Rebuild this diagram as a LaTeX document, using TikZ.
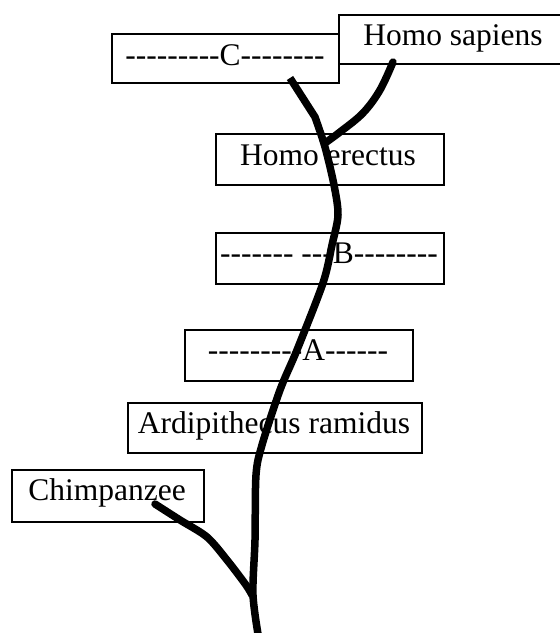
\documentclass[tikz,border=0pt]{standalone}
\usepackage{fontspec}
\setmainfont{Liberation Serif}[Ligatures=TeXOff]
\begin{document}
\begin{tikzpicture}[x=1pt,y=-1pt,
  labelbox/.style={draw, line width=1.8pt, fill=white, inner sep=0pt, anchor=north west},
  taxon/.style={anchor=base, inner sep=0pt, font=\fontsize{31.5}{36}\selectfont},
  branch/.style={line width=7.5pt, line cap=round, line join=round}]
\useasboundingbox (0,0) rectangle (560,633);
\clip (0,0) rectangle (560,633);

% label boxes
\node[labelbox, minimum width=227pt, minimum height=49pt] (boxC) at (111,33) {};
\node[labelbox, minimum width=240pt, minimum height=49pt] (boxSap) at (338,14) {};
\node[labelbox, minimum width=228pt, minimum height=51pt] (boxEre) at (215,133) {};
\node[labelbox, minimum width=228pt, minimum height=51pt] (boxB) at (215,232) {};
\node[labelbox, minimum width=228pt, minimum height=51pt] (boxA) at (184,329) {};
\node[labelbox, minimum width=294pt, minimum height=50pt] (boxArd) at (127,402) {};
\node[labelbox, minimum width=192pt, minimum height=52pt] (boxChimp) at (11,469) {};

% labels
\node[taxon] (tC) at (225,65) {---------C--------};
\node[taxon] (tSap) at (453,45) {Homo sapiens};
\node[taxon] (tEre) at (328,165) {Homo erectus};
\node[taxon] (tB) at (329,263) {------- ---B--------};
\node[taxon] (tA) at (298,360) {---------A------};
\node[taxon] (tArd) at (274,433) {Ardipithecus ramidus};
\node[taxon] (tChimp) at (107,500) {Chimpanzee};

% branch points
\coordinate (root) at (259,640);
\coordinate (chimpFork) at (252,595);
\coordinate (sapFork) at (325,143);
\coordinate (trunkTop) at (290,78);
\coordinate (sapTip) at (393,62);
\coordinate (chimpTip) at (155,504);

% main trunk
\draw[branch, line cap=butt] plot[smooth, tension=0.5] coordinates {
  (root) (253,595) (255,540) (256,475) (262,445) (280,390)
  (297,350) (323,283) (332,245) (338,215) (334,185) (325,147) (315,117)}
  -- (trunkTop);

% Homo sapiens branch
\draw[branch] plot[smooth, tension=0.6] coordinates {
  (sapFork) (340,132) (363,113) (380,90) (sapTip)};

% chimpanzee branch
\draw[branch] plot[smooth, tension=0.5] coordinates {
  (chimpTip) (180,520) (207,537) (227,560) (246,585) (chimpFork)};
\end{tikzpicture}
\end{document}
